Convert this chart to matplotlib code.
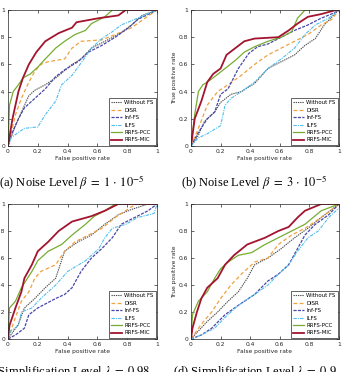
import matplotlib
matplotlib.use("Agg")
import matplotlib.pyplot as plt

plt.rcParams["mathtext.fontset"] = "stix"

methods = ["Without FS", "DISR", "Inf-FS", "ILFS", "RRFS-PCC", "RRFS-MIC"]
colors = ["#4d4d4d", "#f0a040", "#4848a8", "#4dbeee", "#77ac30", "#a2142f"]
styles = [(0, (1.2, 0.8)), (0, (3, 2)), (0, (2.5, 1)), (0, (3, 1, 1, 1)), "-", "-"]
widths = [0.8, 0.9, 0.9, 0.8, 0.9, 1.3]

captions = [
    r"(a) Noise Level $\beta\;=\;1\,\cdot\,10^{-5}$",
    r"(b) Noise Level $\beta\;=\;3\,\cdot\,10^{-5}$",
    r"(c) Simplification Level $\lambda\;=\;0.98$",
    r"(d) Simplification Level $\lambda\;=\;0.9$",
]
tick_vals = [0, 0.2, 0.4, 0.6, 0.8, 1]
tick_labels = ["0", "0.2", "0.4", "0.6", "0.8", "1"]

# (a) noise 1e-5
a_without_x = [0, 0.05, 0.09, 0.14, 0.18, 0.25, 0.32, 0.43, 0.49, 0.56, 0.65, 0.74, 0.83, 0.90, 1.0]
a_without_y = [0, 0.15, 0.25, 0.37, 0.41, 0.45, 0.50, 0.60, 0.64, 0.72, 0.77, 0.82, 0.89, 0.96, 1.0]
a_disr_x = [0, 0.05, 0.09, 0.14, 0.18, 0.22, 0.27, 0.38, 0.43, 0.49, 0.63, 0.72, 0.83, 0.92, 1.0]
a_disr_y = [0, 0.23, 0.35, 0.47, 0.55, 0.60, 0.62, 0.64, 0.72, 0.77, 0.78, 0.82, 0.87, 0.94, 1.0]
a_inf_x = [0, 0.02, 0.07, 0.11, 0.18, 0.25, 0.32, 0.38, 0.47, 0.54, 0.63, 0.72, 0.81, 0.87, 1.0]
a_inf_y = [0, 0.08, 0.20, 0.28, 0.35, 0.42, 0.51, 0.56, 0.62, 0.69, 0.74, 0.80, 0.87, 0.93, 1.0]
a_ilfs_x = [0, 0.02, 0.07, 0.11, 0.20, 0.25, 0.32, 0.36, 0.43, 0.49, 0.56, 0.63, 0.70, 0.76, 0.87, 1.0]
a_ilfs_y = [0, 0.06, 0.10, 0.13, 0.14, 0.23, 0.33, 0.45, 0.52, 0.61, 0.72, 0.79, 0.84, 0.89, 0.94, 1.0]
a_pcc_x = [0, 0.01, 0.035, 0.07, 0.10, 0.15, 0.20, 0.25, 0.32, 0.38, 0.45, 0.52, 0.56, 0.65, 0.70, 1.0]
a_pcc_y = [0, 0.30, 0.40, 0.45, 0.50, 0.53, 0.58, 0.64, 0.72, 0.77, 0.82, 0.85, 0.90, 0.95, 1.0, 1.0]
a_mic_x = [0, 0.03, 0.07, 0.10, 0.14, 0.19, 0.25, 0.34, 0.43, 0.46, 0.61, 0.74, 0.79, 1.0]
a_mic_y = [0, 0.20, 0.40, 0.50, 0.60, 0.69, 0.77, 0.83, 0.87, 0.91, 0.94, 0.96, 1.0, 1.0]

# (b) noise 3e-5
b_without_x = [0, 0.05, 0.09, 0.16, 0.20, 0.27, 0.34, 0.43, 0.52, 0.61, 0.70, 0.77, 0.84, 0.90, 0.97, 1.0]
b_without_y = [0, 0.08, 0.18, 0.25, 0.32, 0.38, 0.40, 0.46, 0.57, 0.62, 0.67, 0.74, 0.79, 0.89, 0.97, 1.0]
b_disr_x = [0, 0.05, 0.11, 0.18, 0.25, 0.34, 0.43, 0.52, 0.61, 0.70, 0.79, 0.88, 0.95, 1.0]
b_disr_y = [0, 0.13, 0.30, 0.40, 0.45, 0.52, 0.60, 0.67, 0.72, 0.77, 0.82, 0.89, 0.93, 1.0]
b_inf_x = [0, 0.05, 0.11, 0.16, 0.20, 0.25, 0.32, 0.39, 0.45, 0.52, 0.61, 0.70, 0.79, 0.88, 0.97, 1.0]
b_inf_y = [0, 0.10, 0.20, 0.25, 0.38, 0.42, 0.57, 0.68, 0.73, 0.75, 0.80, 0.85, 0.89, 0.94, 0.98, 1.0]
b_ilfs_x = [0, 0.05, 0.11, 0.20, 0.23, 0.27, 0.34, 0.43, 0.52, 0.61, 0.70, 0.77, 0.84, 0.93, 1.0]
b_ilfs_y = [0, 0.06, 0.09, 0.15, 0.30, 0.35, 0.40, 0.47, 0.57, 0.64, 0.72, 0.82, 0.89, 0.94, 1.0]
b_pcc_x = [0, 0.025, 0.05, 0.08, 0.11, 0.16, 0.23, 0.30, 0.36, 0.43, 0.52, 0.61, 0.68, 0.72, 0.77, 1.0]
b_pcc_y = [0, 0.23, 0.40, 0.45, 0.47, 0.51, 0.57, 0.63, 0.69, 0.73, 0.77, 0.80, 0.84, 0.94, 1.0, 1.0]
b_mic_x = [0, 0.025, 0.07, 0.11, 0.15, 0.20, 0.24, 0.30, 0.36, 0.43, 0.59, 0.66, 0.72, 0.79, 0.88, 0.98, 1.0]
b_mic_y = [0, 0.20, 0.33, 0.47, 0.53, 0.57, 0.67, 0.72, 0.77, 0.79, 0.80, 0.85, 0.90, 0.95, 0.97, 1.0, 1.0]

# (c) simplification 0.98
c_without_x = [0, 0.07, 0.11, 0.18, 0.25, 0.32, 0.38, 0.47, 0.56, 0.65, 0.74, 0.83, 0.94, 1.0]
c_without_y = [0, 0.11, 0.23, 0.30, 0.38, 0.45, 0.65, 0.72, 0.77, 0.85, 0.92, 0.96, 1.0, 1.0]
c_disr_x = [0, 0.05, 0.09, 0.14, 0.18, 0.22, 0.32, 0.38, 0.45, 0.54, 0.63, 0.72, 0.83, 0.87, 1.0]
c_disr_y = [0, 0.16, 0.28, 0.35, 0.45, 0.50, 0.55, 0.65, 0.72, 0.77, 0.82, 0.90, 0.98, 1.0, 1.0]
c_inf_x = [0, 0.05, 0.11, 0.14, 0.20, 0.32, 0.38, 0.43, 0.49, 0.56, 0.63, 0.70, 0.76, 0.85, 0.94, 1.0]
c_inf_y = [0, 0.03, 0.08, 0.18, 0.23, 0.30, 0.33, 0.38, 0.50, 0.60, 0.67, 0.75, 0.85, 0.90, 0.95, 1.0]
c_ilfs_x = [0, 0.02, 0.07, 0.09, 0.16, 0.22, 0.32, 0.40, 0.52, 0.61, 0.65, 0.70, 0.79, 0.87, 0.98, 1.0]
c_ilfs_y = [0, 0.06, 0.10, 0.20, 0.23, 0.30, 0.40, 0.50, 0.58, 0.67, 0.75, 0.82, 0.85, 0.90, 0.93, 1.0]
c_pcc_x = [0, 0.01, 0.05, 0.09, 0.16, 0.20, 0.27, 0.36, 0.43, 0.52, 0.58, 0.65, 0.72, 1.0]
c_pcc_y = [0, 0.23, 0.28, 0.38, 0.50, 0.58, 0.65, 0.70, 0.77, 0.85, 0.91, 0.95, 1.0, 1.0]
c_mic_x = [0, 0.01, 0.05, 0.09, 0.11, 0.16, 0.20, 0.27, 0.34, 0.43, 0.56, 0.65, 0.74, 1.0]
c_mic_y = [0, 0.10, 0.23, 0.35, 0.45, 0.55, 0.65, 0.72, 0.80, 0.87, 0.91, 0.95, 1.0, 1.0]

# (d) simplification 0.9
d_without_x = [0, 0.05, 0.11, 0.18, 0.25, 0.32, 0.38, 0.43, 0.52, 0.61, 0.70, 0.79, 0.88, 1.0]
d_without_y = [0, 0.06, 0.13, 0.20, 0.28, 0.35, 0.45, 0.55, 0.60, 0.67, 0.75, 0.82, 0.90, 1.0]
d_disr_x = [0, 0.07, 0.14, 0.20, 0.27, 0.34, 0.43, 0.52, 0.59, 0.68, 0.77, 0.88, 1.0]
d_disr_y = [0, 0.11, 0.20, 0.30, 0.40, 0.48, 0.57, 0.60, 0.70, 0.77, 0.82, 0.90, 1.0]
d_inf_x = [0, 0.07, 0.14, 0.23, 0.32, 0.43, 0.52, 0.59, 0.66, 0.72, 0.77, 0.84, 0.93, 1.0]
d_inf_y = [0, 0.03, 0.08, 0.18, 0.25, 0.33, 0.43, 0.48, 0.55, 0.67, 0.77, 0.85, 0.92, 1.0]
d_ilfs_x = [0, 0.07, 0.16, 0.23, 0.32, 0.43, 0.52, 0.59, 0.66, 0.72, 0.79, 0.86, 0.93, 1.0]
d_ilfs_y = [0, 0.03, 0.08, 0.16, 0.25, 0.33, 0.40, 0.48, 0.55, 0.65, 0.75, 0.80, 0.90, 0.97]
d_pcc_x = [0, 0.01, 0.05, 0.11, 0.16, 0.20, 0.25, 0.32, 0.41, 0.50, 0.59, 0.68, 0.77, 0.88, 1.0]
d_pcc_y = [0, 0.18, 0.28, 0.35, 0.45, 0.52, 0.57, 0.62, 0.64, 0.70, 0.75, 0.80, 0.85, 0.95, 1.0]
d_mic_x = [0, 0.01, 0.04, 0.07, 0.11, 0.18, 0.23, 0.29, 0.38, 0.50, 0.59, 0.66, 0.72, 0.77, 0.88, 1.0]
d_mic_y = [0, 0.08, 0.20, 0.30, 0.38, 0.45, 0.55, 0.62, 0.70, 0.75, 0.80, 0.83, 0.90, 0.95, 1.0, 1.0]

panels = [
    [(a_without_x, a_without_y), (a_disr_x, a_disr_y), (a_inf_x, a_inf_y),
     (a_ilfs_x, a_ilfs_y), (a_pcc_x, a_pcc_y), (a_mic_x, a_mic_y)],
    [(b_without_x, b_without_y), (b_disr_x, b_disr_y), (b_inf_x, b_inf_y),
     (b_ilfs_x, b_ilfs_y), (b_pcc_x, b_pcc_y), (b_mic_x, b_mic_y)],
    [(c_without_x, c_without_y), (c_disr_x, c_disr_y), (c_inf_x, c_inf_y),
     (c_ilfs_x, c_ilfs_y), (c_pcc_x, c_pcc_y), (c_mic_x, c_mic_y)],
    [(d_without_x, d_without_y), (d_disr_x, d_disr_y), (d_inf_x, d_inf_y),
     (d_ilfs_x, d_ilfs_y), (d_pcc_x, d_pcc_y), (d_mic_x, d_mic_y)],
]

W, H = 345, 372
fig = plt.figure(figsize=(W / 100, H / 100), dpi=100)

# axes boxes in pixels: left, top, right, bottom
boxes = [(8, 10, 157, 146), (191, 10, 339, 146), (8, 204, 157, 339), (191, 204, 339, 339)]
caption_pos = [(72, 183), (254, 183), (66, 372), (255, 372)]

for i, curves in enumerate(panels):
    l, t, r, b = boxes[i]
    ax = fig.add_axes([l / W, 1 - b / H, (r - l) / W, (b - t) / H])
    for j, (xs, ys) in enumerate(curves):
        ax.plot(xs, ys, color=colors[j], linestyle=styles[j], lw=widths[j], label=methods[j])
    ax.set_xlim(0, 1)
    ax.set_ylim(0, 1)
    ax.set_xticks(tick_vals)
    ax.set_xticklabels(tick_labels)
    ax.set_yticks(tick_vals)
    ax.set_yticklabels(tick_labels)
    ax.tick_params(direction="in", length=2, width=0.5, labelsize=4.3, pad=2,
                   top=True, right=True, colors="#262626")
    for sp in ax.spines.values():
        sp.set_linewidth(0.5)
        sp.set_color("#262626")
    ax.set_xlabel("False positive rate", fontsize=4.3, labelpad=1.5, color="#262626")
    ax.set_ylabel("True positive rate", fontsize=4.3, labelpad=1, color="#262626")
    leg = ax.legend(loc="lower right", fontsize=3.9, handlelength=2.0, handletextpad=0.5,
                    labelspacing=0.45, borderpad=0.4, borderaxespad=0.25,
                    fancybox=False, framealpha=1)
    leg.get_frame().set_linewidth(0.5)
    leg.get_frame().set_edgecolor("#262626")
    cx, cy = caption_pos[i]
    fig.text(cx / W, 1 - cy / H, captions[i], ha="center", va="center",
             fontsize=9, family="Liberation Serif")

fig.savefig("out.png", dpi=100)
